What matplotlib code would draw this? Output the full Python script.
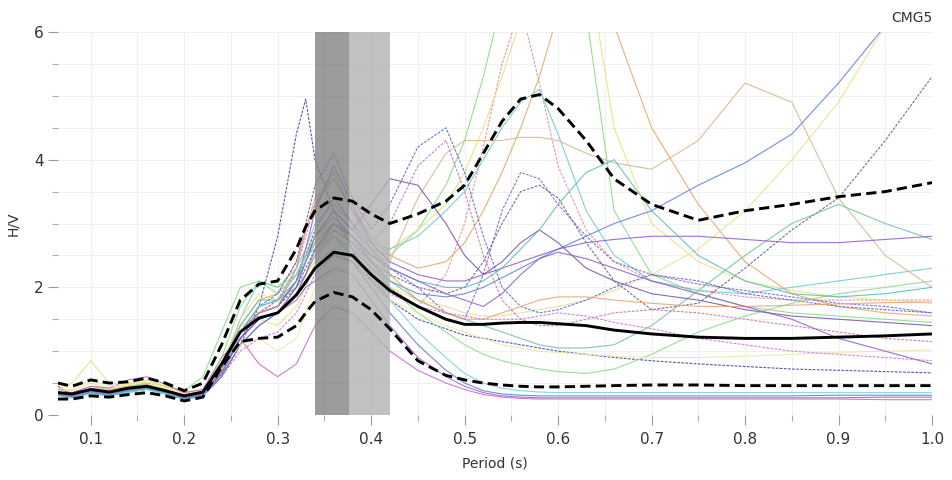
import matplotlib
matplotlib.use("Agg")
import matplotlib.pyplot as plt
from matplotlib.ticker import MultipleLocator, FormatStrFormatter

# Period grid (s)
period = [0.065, 0.08, 0.10, 0.12, 0.14, 0.16, 0.18, 0.20, 0.22, 0.24, 0.26, 0.28, 0.30,
          0.32, 0.33, 0.34, 0.36, 0.38, 0.40, 0.42, 0.45, 0.48, 0.50, 0.52, 0.54, 0.56,
          0.58, 0.60, 0.63, 0.66, 0.70, 0.75, 0.80, 0.85, 0.90, 0.95, 1.00]

mean_hv = [0.35, 0.33, 0.40, 0.36, 0.42, 0.45, 0.38, 0.30, 0.36,
           0.80, 1.30, 1.52, 1.60, 1.88, 2.08, 2.30,
           2.55, 2.50, 2.20, 1.95, 1.70, 1.50, 1.42,
           1.42, 1.44, 1.45, 1.45, 1.43, 1.40, 1.33,
           1.27, 1.22, 1.20, 1.20, 1.22, 1.24, 1.27]
upper_hv = [0.50, 0.45, 0.55, 0.50, 0.52, 0.58, 0.50, 0.38, 0.50,
            1.10, 1.80, 2.05, 2.10, 2.60, 2.95, 3.20,
            3.40, 3.35, 3.15, 3.00, 3.15, 3.35, 3.60,
            4.10, 4.60, 4.95, 5.02, 4.80, 4.30, 3.70,
            3.30, 3.05, 3.20, 3.30, 3.42, 3.50, 3.64]
lower_hv = [0.25, 0.25, 0.30, 0.28, 0.32, 0.35, 0.30, 0.22, 0.28,
            0.75, 1.15, 1.20, 1.22, 1.40, 1.60, 1.78,
            1.92, 1.85, 1.65, 1.35, 0.85, 0.62, 0.55,
            0.50, 0.47, 0.45, 0.44, 0.44, 0.45, 0.46,
            0.47, 0.47, 0.46, 0.46, 0.46, 0.46, 0.46]

c01 = [0.45, 0.30, 0.38, 0.33, 0.40, 0.45, 0.36, 0.26, 0.30, 0.60, 1.10, 1.70, 2.80, 4.40, 4.95, 4.00, 3.20, 2.60, 2.10, 1.80, 1.50, 1.35, 1.25, 1.20, 1.15, 1.10, 1.05, 1.00, 0.95, 0.90, 0.85, 0.80, 0.76, 0.72, 0.70, 0.68, 0.66]
c02 = [0.30, 0.35, 0.45, 0.40, 0.45, 0.50, 0.45, 0.38, 0.60, 1.30, 2.00, 2.10, 1.90, 2.20, 2.50, 2.80, 3.20, 2.90, 2.60, 2.50, 2.90, 3.60, 4.30, 5.30, 6.50, 7.50, 7.80, 7.50, 6.30, 3.20, 2.20, 1.90, 1.70, 1.60, 1.55, 1.50, 1.45]
c03 = [0.35, 0.30, 0.40, 0.35, 0.42, 0.46, 0.40, 0.30, 0.35, 0.70, 1.30, 1.60, 1.80, 2.20, 2.50, 2.90, 3.40, 3.00, 2.40, 2.00, 1.70, 2.20, 3.00, 4.20, 5.50, 6.40, 5.20, 3.90, 2.90, 2.40, 2.10, 1.95, 1.85, 1.80, 1.80, 1.80, 1.80]
c04 = [0.40, 0.50, 0.85, 0.50, 0.50, 0.55, 0.45, 0.35, 0.40, 0.80, 1.40, 1.50, 1.40, 1.70, 2.00, 2.40, 2.90, 2.70, 2.50, 2.60, 2.90, 3.30, 3.80, 4.50, 5.30, 6.20, 7.00, 7.50, 7.20, 4.50, 3.00, 2.40, 2.10, 1.95, 1.85, 1.80, 1.75]
c05 = [0.30, 0.28, 0.35, 0.30, 0.35, 0.40, 0.33, 0.25, 0.30, 0.70, 1.50, 2.10, 2.00, 2.30, 2.60, 3.00, 3.30, 3.00, 2.70, 2.60, 2.80, 3.20, 3.50, 4.00, 4.50, 4.90, 5.10, 4.40, 3.20, 2.50, 2.10, 1.95, 1.90, 2.00, 2.10, 2.20, 2.30]
c06 = [0.38, 0.32, 0.42, 0.38, 0.45, 0.48, 0.40, 0.30, 0.36, 0.75, 1.40, 1.80, 1.90, 2.40, 2.90, 3.30, 3.70, 3.20, 2.80, 2.50, 2.30, 2.40, 2.70, 3.20, 3.80, 4.50, 5.30, 6.30, 7.00, 6.10, 4.50, 3.30, 2.40, 1.90, 1.70, 1.60, 1.55]
c07 = [0.36, 0.31, 0.40, 0.36, 0.43, 0.47, 0.39, 0.29, 0.35, 0.70, 1.20, 1.50, 1.60, 1.90, 2.20, 2.50, 3.00, 2.80, 2.50, 2.40, 3.40, 4.10, 4.30, 4.30, 4.30, 4.35, 4.35, 4.30, 4.10, 3.95, 3.85, 4.30, 5.20, 4.90, 3.40, 2.50, 2.00]
c08 = [0.33, 0.29, 0.37, 0.33, 0.39, 0.43, 0.36, 0.27, 0.32, 0.65, 1.20, 1.60, 1.70, 2.10, 2.40, 2.80, 3.10, 2.80, 2.40, 2.10, 1.90, 1.85, 1.90, 2.00, 2.15, 2.30, 2.45, 2.60, 2.80, 3.00, 3.20, 3.60, 3.95, 4.40, 5.20, 6.10, 7.00]
c09 = [0.42, 0.38, 0.50, 0.42, 0.48, 0.52, 0.43, 0.33, 0.40, 0.80, 1.50, 1.90, 1.80, 2.00, 2.20, 2.40, 2.60, 2.40, 2.20, 2.00, 1.80, 1.70, 1.60, 1.55, 1.55, 1.60, 1.65, 1.70, 1.80, 1.95, 2.20, 2.60, 3.20, 4.00, 4.90, 6.10, 7.00]
c10 = [0.34, 0.30, 0.38, 0.34, 0.40, 0.44, 0.37, 0.27, 0.33, 0.70, 1.30, 1.60, 1.70, 2.00, 2.30, 2.60, 2.90, 2.70, 2.40, 2.20, 2.00, 1.90, 2.00, 2.40, 3.00, 3.50, 3.60, 3.40, 2.70, 2.10, 1.65, 1.75, 2.30, 2.90, 3.40, 4.30, 5.30]
c11 = [0.32, 0.29, 0.37, 0.33, 0.40, 0.44, 0.36, 0.27, 0.32, 0.70, 1.40, 1.80, 1.80, 2.00, 2.20, 2.50, 2.80, 2.60, 2.30, 2.10, 1.80, 1.60, 1.50, 1.40, 1.30, 1.20, 1.10, 1.05, 1.05, 1.10, 1.40, 1.95, 2.50, 3.00, 3.30, 3.00, 2.75]
c12 = [0.35, 0.31, 0.39, 0.35, 0.41, 0.45, 0.38, 0.28, 0.34, 0.70, 1.30, 1.60, 1.70, 2.10, 2.60, 3.20, 3.90, 3.30, 2.70, 2.40, 2.20, 2.10, 2.10, 2.20, 2.30, 2.40, 2.50, 2.60, 2.70, 2.75, 2.80, 2.80, 2.75, 2.70, 2.70, 2.75, 2.80]
c13 = [0.40, 0.35, 0.45, 0.42, 0.55, 0.60, 0.48, 0.35, 0.40, 0.90, 1.20, 0.80, 0.60, 0.80, 1.10, 1.40, 1.70, 1.60, 1.30, 1.00, 0.70, 0.50, 0.40, 0.32, 0.28, 0.26, 0.25, 0.25, 0.25, 0.25, 0.25, 0.25, 0.25, 0.25, 0.25, 0.24, 0.24]
c14 = [0.34, 0.30, 0.36, 0.32, 0.38, 0.42, 0.36, 0.26, 0.30, 0.60, 1.10, 1.40, 1.60, 1.80, 2.00, 2.10, 2.30, 2.20, 1.80, 1.40, 0.90, 0.60, 0.45, 0.35, 0.30, 0.28, 0.27, 0.27, 0.27, 0.27, 0.27, 0.27, 0.27, 0.27, 0.27, 0.28, 0.28]
c15 = [0.36, 0.31, 0.40, 0.36, 0.42, 0.46, 0.38, 0.28, 0.34, 0.75, 1.30, 1.70, 1.90, 2.40, 3.00, 3.60, 4.10, 3.40, 2.90, 3.30, 4.20, 4.50, 3.80, 2.80, 2.00, 1.70, 1.60, 1.65, 1.80, 2.00, 2.20, 2.10, 1.90, 1.80, 1.70, 1.65, 1.60]
c16 = [0.34, 0.30, 0.38, 0.34, 0.41, 0.45, 0.37, 0.28, 0.33, 0.70, 1.30, 1.60, 1.80, 2.30, 2.80, 3.30, 3.80, 3.20, 2.70, 3.00, 3.90, 4.30, 3.50, 2.50, 1.80, 1.50, 1.40, 1.40, 1.50, 1.60, 1.65, 1.60, 1.50, 1.40, 1.30, 1.20, 1.15]
c17 = [0.33, 0.30, 0.37, 0.33, 0.39, 0.43, 0.36, 0.27, 0.32, 0.65, 1.20, 1.50, 1.60, 2.00, 2.40, 2.80, 3.20, 2.90, 3.30, 3.70, 3.60, 3.00, 2.50, 2.20, 2.40, 2.70, 2.90, 2.70, 2.30, 2.10, 1.90, 1.80, 1.65, 1.55, 1.50, 1.45, 1.40]
c18 = [0.35, 0.30, 0.38, 0.34, 0.40, 0.44, 0.37, 0.27, 0.33, 0.70, 1.30, 1.60, 1.70, 2.10, 2.50, 2.90, 3.40, 3.00, 2.60, 2.30, 2.00, 1.60, 1.50, 2.20, 3.20, 3.80, 3.70, 3.30, 2.80, 2.40, 2.20, 2.05, 1.95, 1.85, 1.75, 1.70, 1.60]
c19 = [0.32, 0.28, 0.35, 0.31, 0.37, 0.41, 0.34, 0.25, 0.30, 0.60, 1.10, 1.40, 1.60, 1.90, 2.10, 2.30, 2.50, 2.40, 2.00, 1.60, 1.10, 0.70, 0.50, 0.38, 0.33, 0.31, 0.30, 0.30, 0.30, 0.30, 0.30, 0.30, 0.30, 0.30, 0.31, 0.31, 0.31]
c20 = [0.30, 0.27, 0.33, 0.30, 0.36, 0.40, 0.33, 0.24, 0.30, 0.65, 1.30, 1.70, 1.80, 2.20, 2.50, 2.60, 2.80, 2.50, 2.20, 1.80, 1.30, 0.90, 0.65, 0.50, 0.42, 0.38, 0.36, 0.35, 0.35, 0.35, 0.35, 0.35, 0.35, 0.35, 0.35, 0.35, 0.35]
c21 = [0.33, 0.30, 0.38, 0.34, 0.40, 0.44, 0.37, 0.27, 0.34, 0.90, 1.70, 2.10, 2.00, 2.20, 2.50, 2.80, 3.00, 2.70, 2.30, 2.00, 1.60, 1.30, 1.10, 0.95, 0.85, 0.78, 0.72, 0.68, 0.65, 0.72, 0.95, 1.30, 1.55, 1.75, 1.90, 2.00, 2.10]
c22 = [0.38, 0.40, 0.55, 0.45, 0.48, 0.52, 0.42, 0.32, 0.38, 0.70, 1.10, 1.20, 1.00, 1.20, 1.60, 2.00, 2.30, 2.20, 2.00, 1.80, 1.60, 1.40, 1.30, 1.20, 1.10, 1.05, 1.00, 0.98, 0.95, 0.92, 0.90, 0.90, 0.92, 0.95, 0.98, 1.00, 1.02]
c23 = [0.36, 0.32, 0.40, 0.36, 0.42, 0.46, 0.39, 0.29, 0.35, 0.70, 1.30, 1.60, 1.70, 2.30, 2.90, 3.40, 3.70, 3.20, 2.60, 2.20, 1.80, 1.60, 1.50, 1.50, 1.60, 1.70, 1.80, 1.85, 1.85, 1.80, 1.75, 1.70, 1.70, 1.72, 1.74, 1.76, 1.77]
c24 = [0.31, 0.28, 0.36, 0.32, 0.38, 0.42, 0.35, 0.26, 0.31, 0.65, 1.30, 1.70, 1.80, 2.10, 2.40, 2.70, 3.00, 2.80, 2.50, 2.30, 2.10, 2.00, 2.00, 2.10, 2.30, 2.60, 2.90, 3.30, 3.80, 4.00, 3.20, 2.50, 2.10, 1.90, 1.85, 1.90, 2.00]
c25 = [0.33, 0.30, 0.37, 0.33, 0.40, 0.44, 0.37, 0.27, 0.32, 0.60, 1.00, 1.20, 1.30, 1.60, 1.90, 2.20, 2.50, 2.40, 2.10, 1.90, 1.70, 1.60, 1.55, 1.50, 1.50, 1.50, 1.55, 1.60, 1.55, 1.45, 1.35, 1.20, 1.10, 1.00, 0.95, 0.90, 0.85]
c26 = [0.34, 0.30, 0.38, 0.34, 0.40, 0.44, 0.37, 0.27, 0.33, 0.65, 1.20, 1.50, 1.60, 1.90, 2.20, 2.60, 3.00, 2.80, 2.50, 2.30, 2.10, 1.90, 1.80, 1.70, 1.90, 2.20, 2.45, 2.55, 2.45, 2.30, 2.10, 1.90, 1.70, 1.50, 1.20, 1.00, 0.80]

curves = [c01, c02, c03, c04, c05, c06, c07, c08, c09, c10, c11, c12, c13,
          c14, c15, c16, c17, c18, c19, c20, c21, c22, c23, c24, c25, c26]
colors = ['#3b3b9e', '#86d686', '#e0879a', '#e8e078', '#6cc8d0', '#e4a45c', '#d6b48a',
          '#5a7ed6', '#eedc8c', '#5c5c7c', '#6cc0a0', '#8c58c8', '#c864c8', '#9a60c0',
          '#4a64c8', '#c070b0', '#7050a8', '#7a5cc0', '#5878d0', '#70d0d8', '#8ad88e',
          '#f0e4a0', '#e8a070', '#58b8b0', '#d070d0', '#8a5ad0']
dashed = [True, False, True, False, False, False, False, False, False, True, False, False, False,
          False, True, True, False, True, False, False, False, False, False, False, True, False]

band_dark = (0.34, 0.376)
band_light = (0.376, 0.42)

fig = plt.figure(figsize=(9.52, 4.8), dpi=100)
ax = fig.add_axes([58 / 952, 1 - 415 / 480, (932 - 58) / 952, (415 - 32) / 480])

for ys, col, dsh in zip(curves, colors, dashed):
    ln, = ax.plot(period, ys, color=col, lw=0.8, alpha=0.85, zorder=2)
    if dsh:
        ln.set_dashes((2.5, 1.2))

ax.axvspan(*band_dark, color='#828282', alpha=0.8, lw=0, zorder=3)
ax.axvspan(*band_light, color='#b2b2b2', alpha=0.8, lw=0, zorder=3)

ax.plot(period, mean_hv, color='black', lw=2.1, zorder=5)
ax.plot(period, upper_hv, color='black', lw=2.1, dashes=(3.5, 1.8), zorder=5)
ax.plot(period, lower_hv, color='black', lw=2.1, dashes=(3.5, 1.8), zorder=5)

ax.set_xlim(0.065, 1.0)
ax.set_ylim(0, 6)
ax.xaxis.set_major_locator(MultipleLocator(0.1))
ax.xaxis.set_minor_locator(MultipleLocator(0.05))
ax.yaxis.set_major_locator(MultipleLocator(2))
ax.yaxis.set_minor_locator(MultipleLocator(0.5))
ax.xaxis.set_major_formatter(FormatStrFormatter('%.1f'))
ax.grid(True, which='both', color='#f0f0f0', lw=0.7, zorder=0)
ax.set_axisbelow(True)
for s in ax.spines.values():
    s.set_visible(False)
ax.tick_params(axis='both', which='major', length=7, width=0.8, color='#999999',
               labelsize=11, labelcolor='#333333')
ax.tick_params(axis='x', which='major', pad=5)
ax.tick_params(axis='both', which='minor', length=4, width=0.8, color='#aaaaaa')
ax.set_xlabel('Period (s)', fontsize=10, color='#333333', labelpad=7)
ax.set_ylabel('H/V', fontsize=10, color='#333333', labelpad=10)
fig.text(0.979, 0.962, 'CMG5', ha='right', va='center', fontsize=10, color='#333333')

fig.savefig('out.png', dpi=100)
